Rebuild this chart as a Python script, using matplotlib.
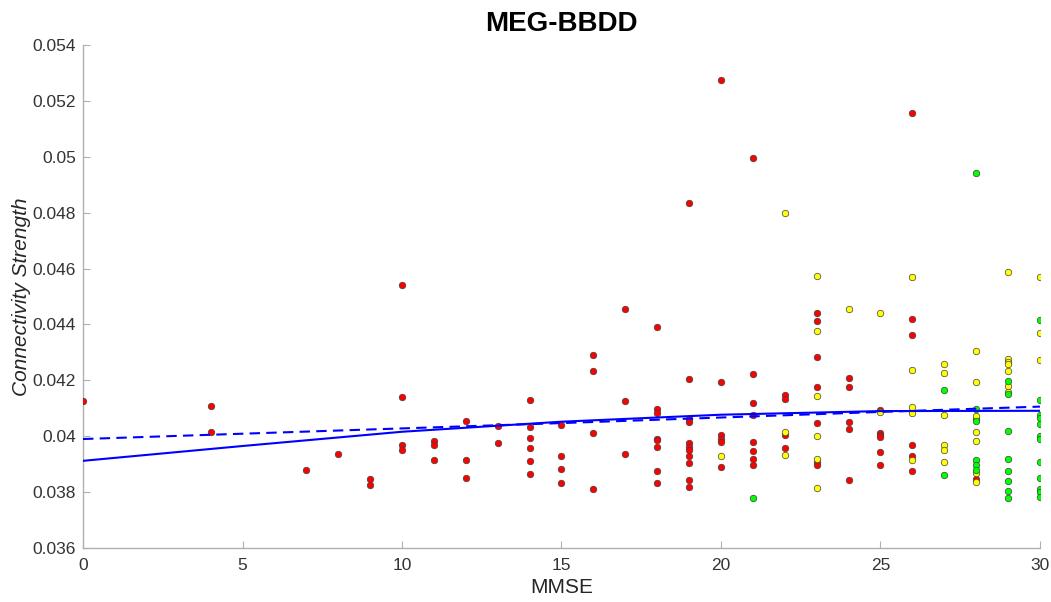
import matplotlib
matplotlib.use("Agg")
import matplotlib.pyplot as plt

# ---- data ----
red_x = [0, 4, 4, 7, 8, 9, 9, 10, 10, 10, 10, 11, 11, 11, 12, 12, 12, 13, 13,
         14, 14, 14, 14, 14, 14, 15, 15, 15, 15, 16, 16, 16, 16, 17, 17, 17,
         18, 18, 18, 18, 18, 18, 18, 18,
         19, 19, 19, 19, 19, 19, 19, 19, 19, 19, 19,
         20, 20, 20, 20, 20, 20,
         21, 21, 21, 21, 21, 21, 21, 21,
         22, 22, 22, 22,
         23, 23, 23, 23, 23, 23, 23,
         24, 24, 24, 24, 24,
         25, 25, 25, 25, 25, 25,
         26, 26, 26, 26, 26, 26,
         28, 28]
red_y = [0.04125, 0.04108, 0.04014, 0.03879, 0.03937, 0.03847, 0.03824,
         0.04541, 0.04141, 0.03968, 0.03950, 0.03982, 0.03970, 0.03916,
         0.04053, 0.03915, 0.03851, 0.04037, 0.03976,
         0.04130, 0.04034, 0.03995, 0.03959, 0.03910, 0.03864,
         0.04039, 0.03930, 0.03884, 0.03834,
         0.04290, 0.04232, 0.04012, 0.03812,
         0.04455, 0.04127, 0.03937,
         0.04391, 0.04098, 0.04084, 0.03990, 0.03985, 0.03963, 0.03874, 0.03833,
         0.04835, 0.04204, 0.04062, 0.04050, 0.03975, 0.03963, 0.03952,
         0.03929, 0.03904, 0.03844, 0.03819,
         0.05275, 0.04193, 0.04003, 0.03991, 0.03979, 0.03889,
         0.04996, 0.04224, 0.04119, 0.04075, 0.03978, 0.03948, 0.03920, 0.03897,
         0.04149, 0.04132, 0.04006, 0.03957,
         0.04441, 0.04412, 0.04282, 0.04176, 0.04046, 0.03909, 0.03897,
         0.04208, 0.04176, 0.04050, 0.04027, 0.03844,
         0.04095, 0.04010, 0.04003, 0.03996, 0.03944, 0.03897,
         0.05157, 0.04419, 0.04362, 0.03970, 0.03930, 0.03877,
         0.04062, 0.03847]

yellow_x = [20, 22, 22, 22,
            23, 23, 23, 23, 23, 23,
            24, 25, 25,
            26, 26, 26, 26, 26,
            27, 27, 27, 27, 27, 27,
            28, 28, 28, 28, 28, 28, 28,
            29, 29, 29, 29, 29, 29, 29,
            30, 30, 30]
yellow_y = [0.03929, 0.04799, 0.04015, 0.03934,
            0.04573, 0.04377, 0.04145, 0.04002, 0.03918, 0.03816,
            0.04456, 0.04441, 0.04086,
            0.04570, 0.04238, 0.04105, 0.04082, 0.03914,
            0.04258, 0.04226, 0.04076, 0.03970, 0.03952, 0.03907,
            0.04305, 0.04195, 0.04073, 0.04015, 0.03982, 0.03870, 0.03835,
            0.04588, 0.04275, 0.04267, 0.04260, 0.04232, 0.04181, 0.04157,
            0.04570, 0.04369, 0.04273]

green_x = [21, 27, 27,
           28, 28, 28, 28, 28, 28,
           29, 29, 29, 29, 29, 29, 29, 29,
           30, 30, 30, 30, 30, 30, 30, 30, 30, 30, 30, 30]
green_y = [0.03780, 0.04165, 0.03862,
           0.04942, 0.04098, 0.04055, 0.03914, 0.03898, 0.03879,
           0.04197, 0.04150, 0.04019, 0.03920, 0.03874, 0.03840, 0.03805, 0.03779,
           0.04417, 0.04131, 0.04075, 0.04065, 0.04045, 0.04002, 0.03990,
           0.03907, 0.03851, 0.03812, 0.03799, 0.03784]

fit_x = [0, 5, 10, 15, 20, 25, 30]
fit_solid_y = [0.03912, 0.03965, 0.04016, 0.04052, 0.04077, 0.04090, 0.04091]
fit_dashed_y = [0.03990, 0.04009, 0.04028, 0.04047, 0.04067, 0.04087, 0.04106]

xticks = [0, 5, 10, 15, 20, 25, 30]
yticks = [0.036, 0.038, 0.04, 0.042, 0.044, 0.046, 0.048, 0.05, 0.052, 0.054]
ytick_labels = ["0.036", "0.038", "0.04", "0.042", "0.044", "0.046",
                "0.048", "0.05", "0.052", "0.054"]

# ---- figure ----
plt.rcParams['font.family'] = ['Liberation Sans', 'DejaVu Sans']
fig = plt.figure(figsize=(10.51, 6.02), dpi=100)
ax = fig.add_axes([0.079, 0.0897, 0.9105, 0.8355])

mk = dict(s=22, edgecolors='#404040', linewidths=0.5, zorder=3)
ax.scatter(red_x, red_y, c='#ff0000', **mk)
ax.scatter(yellow_x, yellow_y, c='#ffff00', **mk)
ax.scatter(green_x, green_y, c='#00ff00', **mk)

ax.plot(fit_x, fit_solid_y, color='#0000ff', lw=1.5, zorder=4)
ax.plot(fit_x, fit_dashed_y, color='#0000ff', lw=1.5, ls=(0, (5, 3)), zorder=4)

ax.set_xlim(0, 30)
ax.set_ylim(0.036, 0.054)
ax.set_xticks(xticks)
ax.set_yticks(yticks)
ax.set_yticklabels(ytick_labels)

for s in ['top', 'right']:
    ax.spines[s].set_visible(False)
for s in ['left', 'bottom']:
    ax.spines[s].set_color('#b0b0b0')
    ax.spines[s].set_linewidth(1.0)
ax.tick_params(direction='in', length=5, width=0.8, color='#b0b0b0',
               labelsize=12.5, labelcolor='#333333', pad=5)
ax.tick_params(axis='x', pad=7)

ax.set_title('MEG-BBDD', fontsize=20, fontweight='bold', color='black', pad=10)
ax.set_xlabel('MMSE', fontsize=15, color='#262626', labelpad=4)
ax.set_ylabel('Connectivity Strength', fontsize=15, style='italic',
              color='#262626', labelpad=1)

fig.savefig('out.png', dpi=100)
